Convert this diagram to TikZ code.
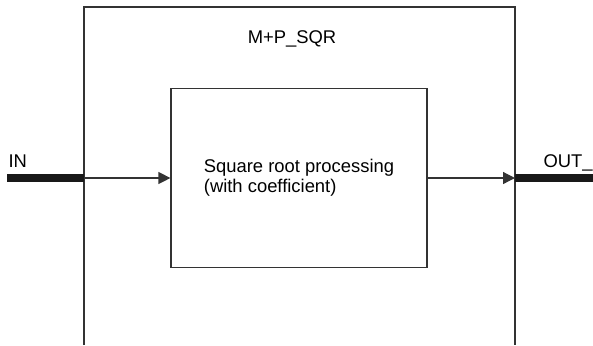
\documentclass[tikz,border=0pt]{standalone}
\usepackage{fontspec}
\setmainfont{Liberation Sans}
\usetikzlibrary{arrows.meta, positioning}

\begin{document}
\begin{tikzpicture}[x=0.5pt, y=-0.5pt, line width=0.6pt,
    font=\fontsize{9.2}{10}\selectfont]
    \useasboundingbox (0,0) rectangle (593,345);

    % outer block, open at the bottom
    \draw[black!80] (84,345) -- (84,7) -- (515,7) -- (515,345);
    \node (fbname) at (292,39) {M+P\_SQR};
    \node[draw=black!80, minimum width=128pt, minimum height=89.5pt, align=left] (sqr) at (299,178)
        {Square root processing\\(with coefficient)};

    \coordinate (inL) at (7,178);
    \coordinate (inR) at (84,178);
    \coordinate (outL) at (515,178);
    \coordinate (outR) at (593,178);

    \draw[line width=4pt, black!90] (inL) -- (inR);
    \draw[black!80, -{Triangle[length=6pt,width=6pt]}] (inR) -- (sqr.west);
    \draw[black!80, -{Triangle[length=6pt,width=6pt]}] (sqr.east) -- (outL);
    \draw[line width=4pt, black!90] (outL) -- (outR);

    \node[anchor=base west, inner sep=0pt] (inlbl) at (8,167) {IN};
    \node[anchor=base west, inner sep=0pt] (outlbl) at (543,167) {OUT\_};
\end{tikzpicture}
\end{document}
